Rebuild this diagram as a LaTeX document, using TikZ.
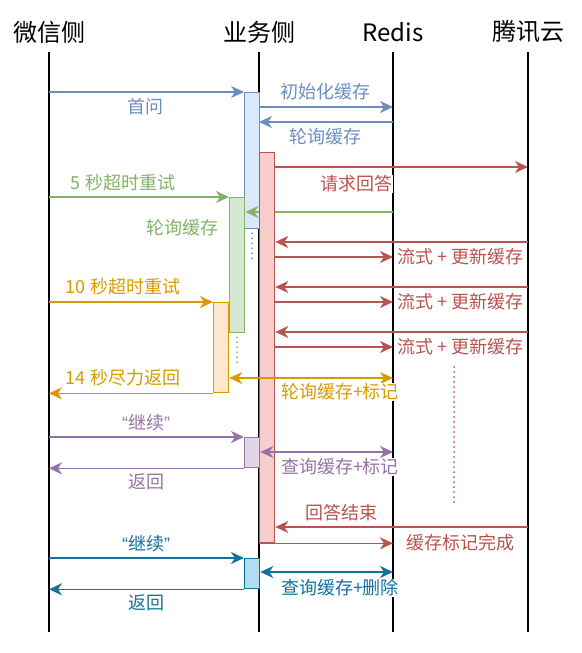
\documentclass[tikz,border=0pt]{standalone}
\usepackage{fontspec}
\setmainfont{Noto Sans CJK SC}
\newfontfamily\latq{Liberation Sans}
\usetikzlibrary{arrows.meta}
\definecolor{cblue}{HTML}{6C8EBF}   \definecolor{cbluebg}{HTML}{DAE8FC}
\definecolor{cred}{HTML}{B85450}    \definecolor{credbg}{HTML}{F8CECC}
\definecolor{cgreen}{HTML}{82B366}  \definecolor{cgreenbg}{HTML}{D5E8D4}
\definecolor{corange}{HTML}{D79B00} \definecolor{corangebg}{HTML}{FFE6CC}
\definecolor{cpurple}{HTML}{9673A6} \definecolor{cpurplebg}{HTML}{E1D5E7}
\definecolor{cteal}{HTML}{10739E}   \definecolor{ctealbg}{HTML}{B1DDF0}
\tikzset{
  >={Stealth[length=13pt, width=12pt, inset=4pt]},
  life/.style   = {draw=black, line width=1.6pt},
  hdr/.style    = {font=\fontsize{24}{28}\selectfont, inner sep=0pt},
  act/.style    = {line width=1.3pt, minimum width=15pt, inner sep=0pt, anchor=north west},
  msg/.style    = {->, line width=1.6pt},
  msgboth/.style= {<->, line width=1.6pt},
  lbl/.style    = {font=\fontsize{18}{21}\selectfont, fill=white, inner sep=1pt},
  dots/.style   = {line width=2pt, line cap=round, dash pattern=on 0pt off 5pt},
}
% activation bar: name, colour, x, top, height
\newcommand{\actbar}[5]{%
  \node[act, draw=#2, fill=#2bg, minimum height=#5pt] (#1) at (#3,#4) {};%
}

\begin{document}
\begin{tikzpicture}[x=1pt, y=-1pt]
  \useasboundingbox (0,0) rectangle (581,653);
  % lifelines
  \foreach \id/\x/\name in {wx/49/微信侧, yw/259/业务侧, rd/393/Redis, tx/528/腾讯云} {
    \node[hdr] (\id-h) at (\x,32) {\name};
    \coordinate (\id-t) at (\x,52);
    \coordinate (\id) at (\x,632);
    \draw[life] (\id-t) -- (\id);
  }

  \actbar{qa}{cblue}{244}{92}{136}
  \actbar{retry5}{cgreen}{229}{197}{135}
  \actbar{retry10}{corange}{213}{302}{90}
  \draw[cblue, dots] (qa.south) ++(0,4) coordinate (qadots) -- ++(0,26);
  \draw[cgreen, dots] (retry5.south) ++(0,4) coordinate (r5dots) -- ++(0,26);

  % first question
  \draw[msg, cblue] (wx |- qa.north) -- (qa.north west);
  \node[lbl, text=cblue] (qa-l) at (145,107) {首问};
  \draw[msg, cblue] (yw |- 0,107) -- (rd |- 0,107);
  \node[lbl, text=cblue] (init-l) at (325,92) {初始化缓存};
  \draw[msg, cblue] (rd |- 0,122) -- (yw |- 0,122);
  \node[lbl, text=cblue] (poll-l) at (325,137) {轮询缓存};

  % 5 s retry
  \draw[msg, cgreen] (wx |- retry5.north) -- (retry5.north west);
  \node[lbl, text=cgreen] (r5-l) at (123,183) {5 秒超时重试};
  \draw[msg, cgreen] (rd |- 0,212) -- (retry5.east |- 0,212);
  \node[lbl, text=cgreen] (r5poll-l) at (182,228) {轮询缓存};

  \actbar{stream}{cred}{259}{152}{390}
  \draw[msg, cred] (stream.east |- 0,167) -- (tx |- 0,167);
  \node[lbl, text=cred] (ask-l) at (356,184) {请求回答};
  \foreach \y in {242,287,332} {
    \draw[msg, cred] (tx |- 0,\y) -- (stream.east |- 0,\y);
    \draw[msg, cred] (stream.east |- 0,\y+15) -- (rd |- 0,\y+15);
    \node[lbl, text=cred, anchor=west] at (396,\y+15) {流式 + 更新缓存};
  }
  \draw[cred, dots] (454,367) coordinate (moredots) -- (454,506);

  % 10 s retry
  \draw[msg, corange] (wx |- retry10.north) -- (retry10.north west);
  \node[lbl, text=corange] (r10-l) at (123,287) {10 秒超时重试};
  \draw[msg, corange] (retry10.south west) -- (wx |- retry10.south);
  \node[lbl, text=corange] (r14-l) at (123,378) {14 秒尽力返回};
  \draw[msgboth, corange] (retry10.east |- 0,378) -- (rd |- 0,378);
  \node[lbl, text=corange] (mark-l) at (340,392) {轮询缓存+标记};

  % continue
  \actbar{cont1}{cpurple}{244}{437}{30}
  \draw[msg, cpurple] (wx |- cont1.north) -- (cont1.north west);
  \node[lbl, text=cpurple] (c1-l) at (146,423) {{\latq “}继续{\latq ”}};
  \draw[msg, cpurple] (cont1.south west) -- (wx |- cont1.south);
  \node[lbl, text=cpurple] (c1back-l) at (146,482) {返回};
  \draw[msgboth, cpurple] (cont1.east |- 0,452) -- (rd |- 0,452);
  \node[lbl, text=cpurple] (c1q-l) at (340,467) {查询缓存+标记};

  \draw[msg, cred] (tx |- 0,527) -- (stream.east |- 0,527);
  \node[lbl, text=cred] (end-l) at (341,513) {回答结束};
  \draw[msg, cred] (stream.south west) -- (rd |- stream.south);
  \node[lbl, text=cred] (done-l) at (460,543) {缓存标记完成};

  \actbar{cont2}{cteal}{244}{558}{30}
  \draw[msg, cteal] (wx |- cont2.north) -- (cont2.north west);
  \node[lbl, text=cteal] (c2-l) at (146,544) {{\latq “}继续{\latq ”}};
  \draw[msg, cteal] (cont2.south west) -- (wx |- cont2.south);
  \node[lbl, text=cteal] (c2back-l) at (146,603) {返回};
  \draw[msgboth, cteal] (cont2.east |- 0,572) -- (rd |- 0,572);
  \node[lbl, text=cteal] (c2q-l) at (340,588) {查询缓存+删除};
\end{tikzpicture}
\end{document}
